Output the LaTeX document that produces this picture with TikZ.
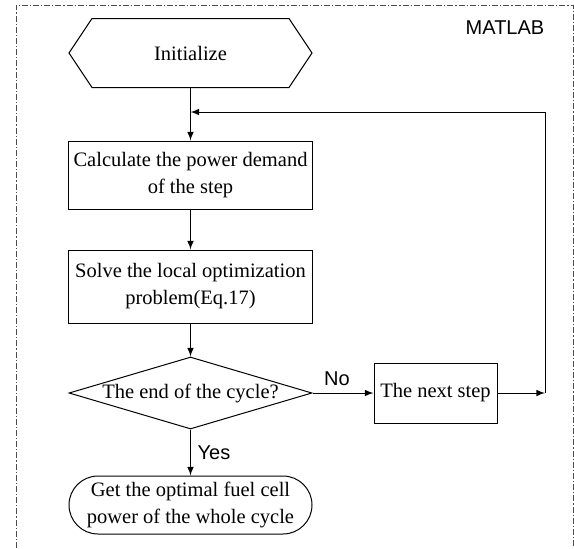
\documentclass[tikz,border=0pt]{standalone}
\usepackage{fontspec}
\setmainfont{Liberation Serif}
\newfontfamily\labelfont{Liberation Sans}
\usetikzlibrary{shapes.geometric}

\begin{document}
\begin{tikzpicture}[x=0.5pt,y=-0.5pt,line width=0.5pt,
    every node/.style={font=\fontsize{10.25}{13.5}\selectfont},
    stepbox/.style={draw,rectangle,align=center,inner sep=0pt,minimum width=122pt},
    hexbox/.style={rectangle,inner sep=0pt,minimum width=98pt,minimum height=34pt},
    decision/.style={draw,diamond,aspect=3.375,inner sep=0pt,minimum width=121.5pt,minimum height=36pt},
    terminal/.style={draw,rectangle,rounded corners=14.5pt,align=center,inner sep=0pt,minimum width=121.5pt,minimum height=29pt},
    tag/.style={font=\labelfont\fontsize{10}{12}\selectfont},
    frame/.style={draw=black!70,dash pattern=on 3pt off 1pt on 0.6pt off 1pt}]
    \useasboundingbox (0,0) rectangle (574,548);

    % dash-dot frame of the MATLAB part
    \draw [frame] (16,548) -- (16,5) -- (573,5) -- (573,548);
    \node [tag] (Matlab) at (505,28) {MATLAB};

    \node [hexbox] (Init) at (190.5,53) {Initialize};
    \draw ([xshift=-11.5pt]Init.west) -- (Init.north west) -- (Init.north east)
        -- ([xshift=11.5pt]Init.east) -- (Init.south east) -- (Init.south west) -- cycle;

    \node [stepbox,minimum height=34pt] (Demand) at (190.5,175)
        {Calculate the power demand\\of the step};
    \node [stepbox,minimum height=36.5pt] (Solve) at (190.5,286.5)
        {Solve the local optimization\\problem(Eq.17)};
    \node [decision] (EndCheck) at (190.5,393) {The end of the cycle?};
    \node [stepbox,minimum width=61.5pt,minimum height=30pt] (NextStep) at (435.5,393)
        {The next step};
    \node [terminal] (Result) at (190.5,505)
        {Get the optimal fuel cell\\power of the whole cycle};

    \coordinate (LoopIn) at (545,393);
    \coordinate (LoopTop) at (545,112);
    \coordinate (Merge) at (Init.south |- LoopTop);

    \draw [-latex] (Init) -- (Demand);
    \draw [-latex] (Demand) -- (Solve);
    \draw [-latex] (Solve) -- (EndCheck);
    \draw [-latex] (EndCheck.east) -- (NextStep.west)
        node [tag,pos=0.4,above] {No};
    \draw [-latex] (EndCheck.south) -- (Result.north)
        node [tag,midway,right] {Yes};

    \draw [-latex] (NextStep.east) -- (LoopIn);
    \draw [-latex] (LoopIn) -- (LoopTop) -- (Merge);
\end{tikzpicture}
\end{document}
